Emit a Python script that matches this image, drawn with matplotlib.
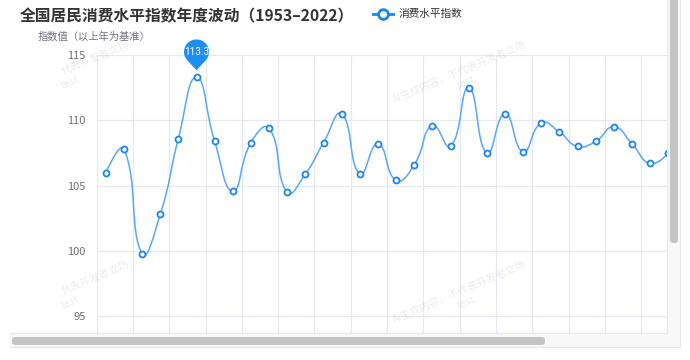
import numpy as np
import matplotlib
matplotlib.use("Agg")
import matplotlib.pyplot as plt
from matplotlib.path import Path
from matplotlib.patches import PathPatch, FancyBboxPatch, Rectangle, Polygon
from matplotlib.transforms import IdentityTransform

plt.rcParams['font.family'] = ['Noto Sans CJK SC', 'DejaVu Sans']

# ---------------- data ----------------
years = list(range(1953, 1985))
values = [106.0, 107.8, 99.8, 102.8, 108.6, 113.3, 108.4, 104.6, 108.3, 109.4,
          104.5, 105.9, 108.3, 110.5, 105.9, 108.2, 105.4, 106.6, 109.6, 108.0,
          112.5, 107.5, 110.5, 107.6, 109.8, 109.1, 108.0, 108.4, 109.5, 108.2,
          106.7, 107.5]
y_ticks = [95, 100, 105, 110, 115]
title = "全国居民消费水平指数年度波动（1953–2022）"
series_name = "消费水平指数"
y_name = "指数值（以上年为基准）"
max_label = "113.3"

W, H = 690, 360
fig = plt.figure(figsize=(W / 100, H / 100), dpi=100)
fig.patch.set_facecolor('white')

def fx(px):
    return px / W

def fy(py):
    return 1 - py / H

left, right, top, bottom = 96.7, 666.7, 55, 333
ax = fig.add_axes([fx(left), fy(bottom), fx(right - left), fy(top) - fy(bottom)])
for s in ax.spines.values():
    s.set_visible(False)
ax.set_yticks(y_ticks)
ax.set_yticklabels([str(t) for t in y_ticks], color='#6e7079', fontsize=8)
ax.set_xticks(np.arange(-0.5, 32, 2))
ax.set_xticklabels([])
ymin = 115 - (bottom - top) / 13.07
ax.set_ylim(ymin, 115)
ax.set_xlim(-0.5, 30.91)
ax.tick_params(axis='both', length=0, pad=8)
ax.grid(True, color='#e6e9f0', linewidth=0.9)
ax.set_axisbelow(True)

# ---------------- smooth line (echarts-style bezier) ----------------
xs = np.arange(len(values), dtype=float)
ys = np.array(values)
sx, sy = 18.17, 13.07  # pixel scale for distance ratios
P = np.column_stack([xs * sx, ys * sy])
smooth = 0.5
verts = [tuple(P[0])]
codes = [Path.MOVETO]
cp0 = P[0].copy()
n = len(P)
for i in range(1, n):
    cur = P[i]
    prev = P[i - 1]
    if i + 1 < n:
        nxt = P[i + 1]
        v = nxt - prev
        l0 = np.hypot(*(cur - prev))
        l1 = np.hypot(*(nxt - cur))
        r = l1 / (l0 + l1)
        ncp0 = cur + v * smooth * r
        cp1 = cur - v * smooth * (1 - r)
    else:
        ncp0 = cur.copy()
        cp1 = cur.copy()
    verts += [tuple(cp0), tuple(cp1), tuple(cur)]
    codes += [Path.CURVE4] * 3
    cp0 = ncp0
verts = [(vx / sx, vy / sy) for vx, vy in verts]
ax.add_patch(PathPatch(Path(verts, codes), facecolor='none', edgecolor='#5aa6f7',
                       linewidth=1.1, zorder=3))
ax.plot(xs, ys, linestyle='none', marker='o', markersize=4.3,
        markerfacecolor='white', markeredgecolor='#1a86f4', markeredgewidth=1.3,
        zorder=4, clip_on=True)
ax.set_xlim(-0.5, 30.91)

# ---------------- pin for max ----------------
imax = int(np.argmax(ys))
fig.canvas.draw()
mx, my = ax.transData.transform((xs[imax], ys[imax]))
cx, cy = mx, my + 25.3
r = 12.5
tip = (mx, my + 7)
d = cy - tip[1]
ang = np.arccos(r / d)
theta = np.linspace(-np.pi / 2 + ang, 3 * np.pi / 2 - ang, 60)
pts = [(cx + r * np.cos(t), cy + r * np.sin(t)) for t in theta]
pts.append(tip)
fig.patches.append(Polygon(pts, closed=True, facecolor='#1e8ef7', edgecolor='none',
                           transform=IdentityTransform(), zorder=5))
fig.text(cx / W, cy / H, max_label, color='white', fontsize=7.2, ha='center',
         va='center', zorder=6, family=['Roboto', 'DejaVu Sans'])

# ---------------- texts ----------------
fig.text(fx(20), fy(16), title, fontsize=11.3, fontweight='bold', color='#333333',
         ha='left', va='center')
fig.text(fx(38), fy(37), y_name, fontsize=7.4, color='#6e7079', ha='left', va='center')
# legend
fig.add_artist(plt.Line2D([fx(373), fx(393)], [fy(14), fy(14)], color='#1a86f4',
                          linewidth=2.0))
fig.add_artist(plt.Line2D([fx(383)], [fy(14)], marker='o', markersize=7,
                          markerfacecolor='white', markeredgecolor='#1a86f4',
                          markeredgewidth=2.0))
fig.text(fx(399), fy(14), series_name, fontsize=7.7, color='#333333', ha='left',
         va='center')

# watermark tiles (left tiles are partially outside the view, show visible part)
wm_full = "AI生成内容，不代表开发者立场"
wm_part = "代表开发者立场"
for (tx, ty) in [(460, 72), (460, 292)]:
    fig.text(fx(tx), fy(ty), wm_full, fontsize=7.5, color='#000000', alpha=0.08,
             rotation=23, ha='center', va='center', rotation_mode='anchor')
    fig.text(fx(tx + 6), fy(ty + 11), "test", fontsize=7.5, color='#000000',
             alpha=0.08, rotation=23, ha='center', va='center',
             rotation_mode='anchor', fontstyle='italic')
for (tx, ty) in [(64, 72), (64, 292)]:
    fig.text(fx(tx + 32), fy(ty - 14), wm_part, fontsize=7.5, color='#000000',
             alpha=0.08, rotation=23, ha='center', va='center',
             rotation_mode='anchor')
    fig.text(fx(tx + 6), fy(ty + 11), "test", fontsize=7.5, color='#000000',
             alpha=0.08, rotation=23, ha='center', va='center',
             rotation_mode='anchor', fontstyle='italic')

# ---------------- scroll container chrome ----------------
def add_rect(x0, y0, x1, y1, fc, z=7):
    fig.patches.append(Rectangle((x0, H - y1), x1 - x0, y1 - y0, facecolor=fc,
                                 edgecolor='none', transform=IdentityTransform(),
                                 zorder=z))

def add_round(x0, y0, x1, y1, fc, rad, z=8):
    fig.patches.append(FancyBboxPatch((x0 + rad, H - y1 + rad), x1 - x0 - 2 * rad,
                                      y1 - y0 - 2 * rad,
                                      boxstyle=f"round,pad={rad}", facecolor=fc,
                                      edgecolor='none', transform=IdentityTransform(),
                                      zorder=z))

add_rect(667, 0, 680, 347, '#f8f8f8')
add_rect(10, 333, 680, 347, '#f8f8f8')
for (x0, y0, x1, y1, c) in [(10, 333, 667, 333, '#e8e8e8'),
                            (667, 0, 667, 333, '#e8e8e8'),
                            (10, 347, 680, 347, '#e6e6e6'),
                            (680, 0, 680, 347, '#e6e6e6')]:
    fig.add_artist(plt.Line2D([fx(x0), fx(x1)], [fy(y0), fy(y1)], color=c,
                              linewidth=0.8, zorder=9))
add_round(12, 337, 545, 345, '#c4c4c4', 3.5)
add_round(670, -5, 678, 243, '#c4c4c4', 3.5)

fig.savefig('out.png', dpi=100, facecolor='white')
